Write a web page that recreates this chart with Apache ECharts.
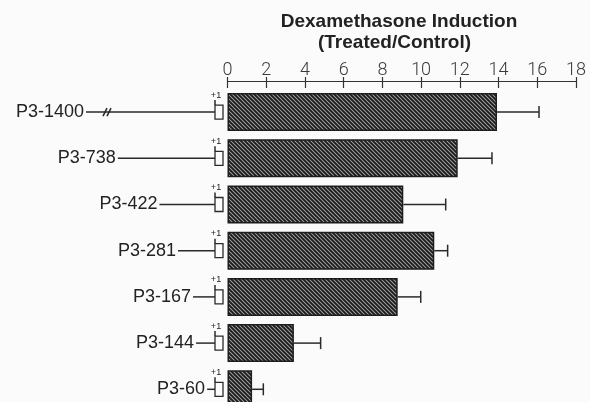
<!DOCTYPE html>
<html>
<head>
<meta charset="utf-8">
<script src="https://cdn.jsdelivr.net/npm/echarts@6/dist/echarts.min.js"></script>
<style>
html,body{margin:0;padding:0;background:#fbfbfb;}
#chart{width:590px;height:402px;}
</style>
</head>
<body>
<div id="chart"></div>
<script>
// ---- data ----
var constructs = ['P3-1400', 'P3-738', 'P3-422', 'P3-281', 'P3-167', 'P3-144', 'P3-60'];
var promoterBp = [1400, 738, 422, 281, 167, 144, 60];
var induction = [13.92, 11.89, 9.08, 10.68, 8.79, 3.43, 1.27];
var errorPlus = [2.17, 1.77, 2.19, 0.69, 1.19, 1.38, 0.58];
var xTicks = [0, 2, 4, 6, 8, 10, 12, 14, 16, 18];
var titleLines = ['Dexamethasone Induction', '(Treated/Control)'];

var BP_AXIS_MAX = 980; // lengths beyond this are drawn with a break

// hatch pattern
function makeHatch() {
  var s = 4;
  var c = document.createElement('canvas');
  c.width = s; c.height = s;
  var g = c.getContext('2d');
  g.fillStyle = '#a0a0a0';
  g.fillRect(0, 0, s, s);
  g.strokeStyle = '#1a1a1a';
  g.lineWidth = 1.8;
  g.beginPath();
  g.moveTo(-1, -1); g.lineTo(s + 1, s + 1);
  g.moveTo(-1, s - 1); g.lineTo(1, s + 1);
  g.moveTo(s - 1, -1); g.lineTo(s + 1, 1);
  g.stroke();
  return c;
}

var chart = echarts.init(document.getElementById('chart'), null, {renderer: 'canvas'});
var ink = '#222';

var option = {
  backgroundColor: '#fbfbfb',
  animation: false,
  grid: [
    {left: 227.5, right: 14, top: 89, height: 323.4, containLabel: false, outerBoundsMode: 'none'},
    {left: 86, right: 375, top: 89, height: 323.4, containLabel: false, outerBoundsMode: 'none'}
  ],
  xAxis: [
    {
      type: 'value', gridIndex: 0, position: 'top', offset: 8,
      min: xTicks[0], max: xTicks[xTicks.length - 1], interval: 2,
      splitLine: {show: false},
      axisLine: {show: true, lineStyle: {color: '#333', width: 1.2}},
      axisTick: {show: true, inside: true, length: 7, lineStyle: {color: '#333', width: 1.2}},
      axisLabel: {show: true, margin: 2, color: '#3a3a3a', fontSize: 18,
        fontFamily: 'Roboto', fontWeight: 300}
    },
    {
      type: 'value', gridIndex: 1, inverse: true, min: 0, max: BP_AXIS_MAX, show: false
    },
    {
      type: 'value', gridIndex: 0, position: 'top', offset: 8,
      min: xTicks[0], max: xTicks[xTicks.length - 1], interval: 2,
      splitLine: {show: false},
      axisLine: {show: false},
      axisTick: {show: true, inside: false, length: 4, lineStyle: {color: '#333', width: 1.2}},
      axisLabel: {show: false}
    }
  ],
  yAxis: [
    {type: 'category', gridIndex: 0, data: constructs, inverse: true, show: false},
    {type: 'category', gridIndex: 1, data: constructs, inverse: true, show: false}
  ],
  graphic: [
    {type: 'text', style: {text: titleLines[0], x: 399, y: 22, textAlign: 'center', textVerticalAlign: 'middle',
        font: 'bold 19px "Liberation Sans", Arial, sans-serif', fill: ink}},
    {type: 'text', style: {text: titleLines[1], x: 394.5, y: 43, textAlign: 'center', textVerticalAlign: 'middle',
        font: 'bold 19px "Liberation Sans", Arial, sans-serif', fill: ink}}
  ],
  series: [
    {
      type: 'bar', xAxisIndex: 0, yAxisIndex: 0,
      data: induction, barWidth: 38,
      itemStyle: {color: {image: makeHatch(), repeat: 'repeat'}, borderColor: '#1e1e1e', borderWidth: 1.5},
      silent: true
    },
    {
      type: 'custom', xAxisIndex: 0, yAxisIndex: 0, clip: false, silent: true,
      data: induction.map(function (v, i) { return [v, i, errorPlus[i]]; }),
      renderItem: function (params, api) {
        var v = api.value(0), idx = api.value(1), e = api.value(2);
        var a = api.coord([v, idx]);
        var b = api.coord([v + e, idx]);
        var st = {stroke: '#2a2a2a', lineWidth: 1.5};
        return {type: 'group', children: [
          {type: 'line', shape: {x1: a[0], y1: a[1], x2: b[0], y2: b[1]}, style: st},
          {type: 'line', shape: {x1: b[0], y1: b[1] - 6, x2: b[0], y2: b[1] + 6}, style: st}
        ]};
      }
    },
    {
      type: 'custom', xAxisIndex: 1, yAxisIndex: 1, clip: false, silent: true,
      data: promoterBp.map(function (bp, i) { return [bp, i]; }),
      renderItem: function (params, api) {
        var bp = api.value(0), idx = api.value(1);
        var drawn = Math.min(bp, BP_AXIS_MAX);
        var p0 = api.coord([0, idx]);
        var p1 = api.coord([drawn, idx]);
        var y = p0[1];
        var st = {stroke: '#2a2a2a', lineWidth: 1.5, fill: null};
        var kids = [
          {type: 'line', shape: {x1: p1[0], y1: y, x2: p0[0], y2: y}, style: st},
          {type: 'rect', shape: {x: p0[0], y: y - 7, width: 8, height: 14},
            style: {stroke: '#2a2a2a', lineWidth: 1.3, fill: '#fbfbfb'}},
          {type: 'line', shape: {x1: p0[0], y1: y - 7, x2: p0[0], y2: y - 12}, style: st},
          {type: 'text', style: {text: '+1', x: p0[0] + 1, y: y - 17, textAlign: 'center', textVerticalAlign: 'middle',
            font: '9px "Liberation Sans", Arial, sans-serif', fill: ink}},
          {type: 'text', style: {text: constructs[idx], x: p1[0] - 2, y: y, textAlign: 'right', textVerticalAlign: 'middle',
            font: '18px "Liberation Sans", Arial, sans-serif', fill: ink}}
        ];
        if (bp > BP_AXIS_MAX) {
          var bx = p1[0] + 20;
          kids.push({type: 'line', shape: {x1: bx - 3, y1: y + 4, x2: bx + 1, y2: y - 4}, style: {stroke: '#2a2a2a', lineWidth: 1.6}});
          kids.push({type: 'line', shape: {x1: bx + 1, y1: y + 4, x2: bx + 5, y2: y - 4}, style: {stroke: '#2a2a2a', lineWidth: 1.6}});
        }
        return {type: 'group', children: kids};
      }
    }
  ]
};
chart.setOption(option);
</script>
</body>
</html>
